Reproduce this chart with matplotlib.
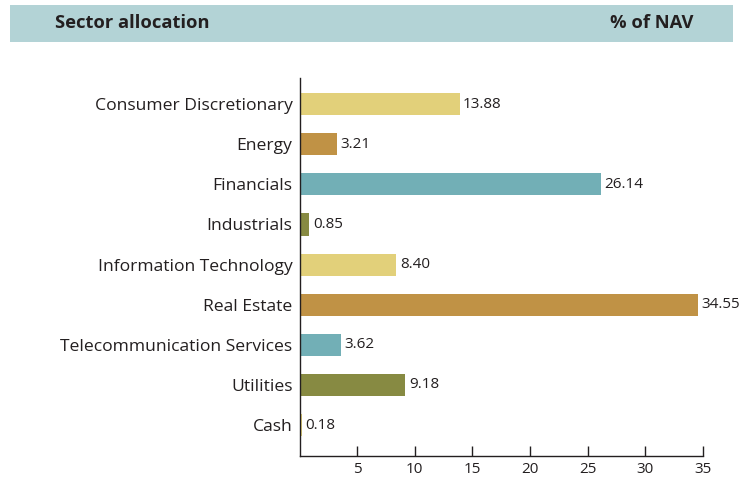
import matplotlib
matplotlib.use("Agg")
import matplotlib.pyplot as plt
from matplotlib.patches import Rectangle

categories = ["Consumer Discretionary", "Energy", "Financials", "Industrials",
              "Information Technology", "Real Estate", "Telecommunication Services",
              "Utilities", "Cash"]
values = [13.88, 3.21, 26.14, 0.85, 8.40, 34.55, 3.62, 9.18, 0.18]
value_labels = ["13.88", "3.21", "26.14", "0.85", "8.40", "34.55", "3.62", "9.18", "0.18"]
colors = ["#e2d07a", "#c09245", "#72afb6", "#878a42",
          "#e2d07a", "#c09245", "#72afb6", "#878a42", "#e2d07a"]
xticks = [5, 10, 15, 20, 25, 30, 35]

plt.rcParams['font.family'] = ['Open Sans', 'DejaVu Sans']
W, H = 741, 480
fig = plt.figure(figsize=(W / 100, H / 100), dpi=100)
txt = "#231f20"

# header band
fig.patches.append(Rectangle((10 / W, 1 - 42 / H), 723 / W, 37 / H,
                             transform=fig.transFigure, facecolor="#b3d3d6",
                             edgecolor="none"))
fig.text(55 / W, 1 - 23.5 / H, "Sector allocation", fontsize=13.2, fontweight="bold",
         color=txt, va="center", ha="left")
fig.text(693 / W, 1 - 23.5 / H, "% of NAV", fontsize=13.2, fontweight="bold",
         color=txt, va="center", ha="right")

ax = fig.add_axes([299.5 / W, 1 - 456 / H, (703 - 299.5) / W, (456 - 78) / H])
y = list(range(len(categories)))
ax.barh(y, values, height=0.55, color=colors)
for yi, v, lab in zip(y, values, value_labels):
    ax.annotate(lab, (v, yi), xytext=(2.5, 0), textcoords="offset points",
                va="center", ha="left", fontsize=11, color=txt)

ax.set_xlim(0, 35)
ax.set_ylim(8.77, -0.65)
ax.set_yticks(y)
ax.set_yticklabels(categories, fontsize=12.6, color=txt)
ax.set_xticks(xticks)
ax.set_xticklabels([str(t) for t in xticks], fontsize=11, color=txt)
ax.tick_params(axis="y", length=0, pad=5)
ax.tick_params(axis="x", direction="in", length=7, width=1, color=txt, pad=4.5)
for s in ["top", "right"]:
    ax.spines[s].set_visible(False)
for s in ["left", "bottom"]:
    ax.spines[s].set_color(txt)
    ax.spines[s].set_linewidth(1)

fig.savefig("out.png", dpi=100)
